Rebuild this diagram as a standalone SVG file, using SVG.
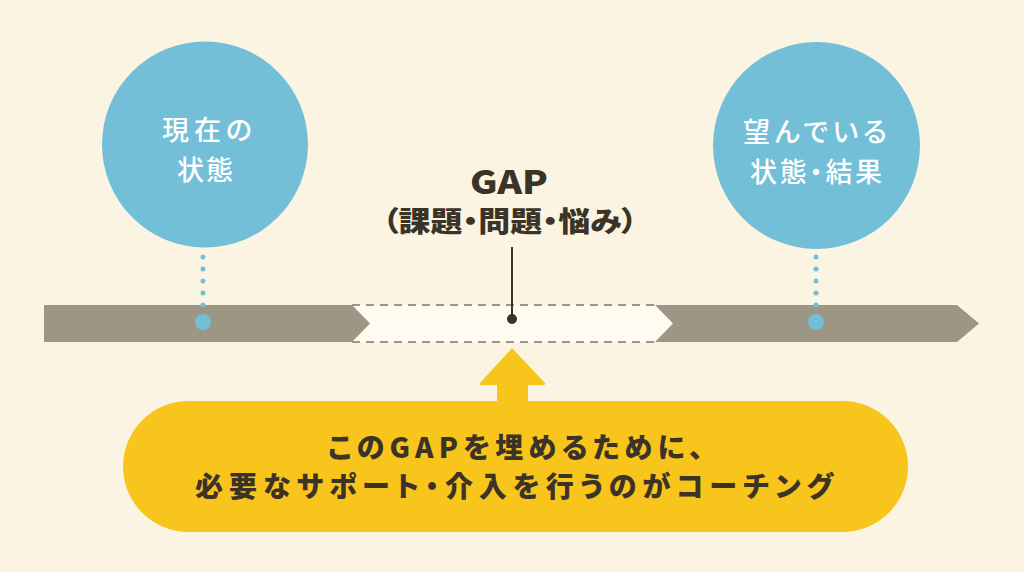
<svg xmlns="http://www.w3.org/2000/svg" width="1024" height="572" viewBox="0 0 1024 572">
<style>
.bg{fill:#fcf4e2}
.band{fill:#9e9684}
.circ{fill:#72bfd7}
.ctext{fill:#ffffff;font-family:"Noto Sans CJK JP","Noto Sans",sans-serif;font-size:27px;font-weight:500;text-anchor:middle;font-feature-settings:"palt"}
.dark{fill:#3b3426;font-family:"Noto Sans CJK JP","Noto Sans",sans-serif;font-weight:900;text-anchor:middle;font-feature-settings:"palt"}
.dash{stroke:#9e9684;stroke-width:2;stroke-dasharray:8 6;fill:none}
.dots{stroke:#72bfd7;stroke-width:5;stroke-linecap:round;stroke-dasharray:0 12;fill:none}
.yel{fill:#f8c51c}
</style>
<rect class="bg" x="0" y="0" width="1024" height="572"/>
<g id="timeline">
<polygon points="352,305 655,305 673,323.5 655,342 352,342" fill="#fffbf0"/>
<line class="dash" x1="352" y1="305" x2="656" y2="305"/>
<line class="dash" x1="352" y1="342" x2="656" y2="342"/>
<polygon class="band" points="44,305 352,305 370,323.5 352,342 44,342"/>
<polygon class="band" points="655,305 957,305 979,323.5 957,342 655,342 673,323.5"/>
</g>
<g id="connectors">
<line class="dots" x1="203" y1="257" x2="203" y2="306"/>
<line class="dots" x1="816" y1="257" x2="816" y2="306"/>
<line x1="512" y1="247" x2="512" y2="318" stroke="#3b3426" stroke-width="2"/>
<circle cx="512" cy="319" r="5" fill="#3b3426"/>
<circle cx="203" cy="322" r="8" fill="#72bfd7"/>
<circle cx="816" cy="322" r="8" fill="#72bfd7"/>
</g>
<g id="current">
<circle class="circ" cx="205" cy="144.5" r="103"/>
<text class="ctext" x="207" y="140" textLength="90" lengthAdjust="spacing">現在の</text>
<text class="ctext" x="205" y="180" textLength="56" lengthAdjust="spacing">状態</text>
</g>
<g id="desired">
<circle class="circ" cx="816.5" cy="145.5" r="103.5"/>
<text class="ctext" x="815" y="142" textLength="144" lengthAdjust="spacing">望んでいる</text>
<text class="ctext" x="816" y="182" textLength="132" lengthAdjust="spacing">状態・結果</text>
</g>
<g id="gap">
<text class="dark" x="509" y="194" font-size="32" textLength="78" lengthAdjust="spacingAndGlyphs">GAP</text>
<text class="dark" x="510" y="232" font-size="28" textLength="255" lengthAdjust="spacingAndGlyphs">（課題・問題・悩み）</text>
</g>
<g id="coaching">
<path class="yel" d="M512,348 L545,383 Q546,385 543,385 L528,385 L528,402 L497,402 L497,385 L481,385 Q478,385 480,383 Z"/>
<rect class="yel" x="123" y="401" width="785" height="131" rx="65.5"/>
<text class="dark" x="515.5" y="458" font-size="28" textLength="375" lengthAdjust="spacing">このGAPを埋めるために、</text>
<text class="dark" x="514" y="497" font-size="28" textLength="638" lengthAdjust="spacing">必要なサポート・介入を行うのがコーチング</text>
</g>
</svg>
